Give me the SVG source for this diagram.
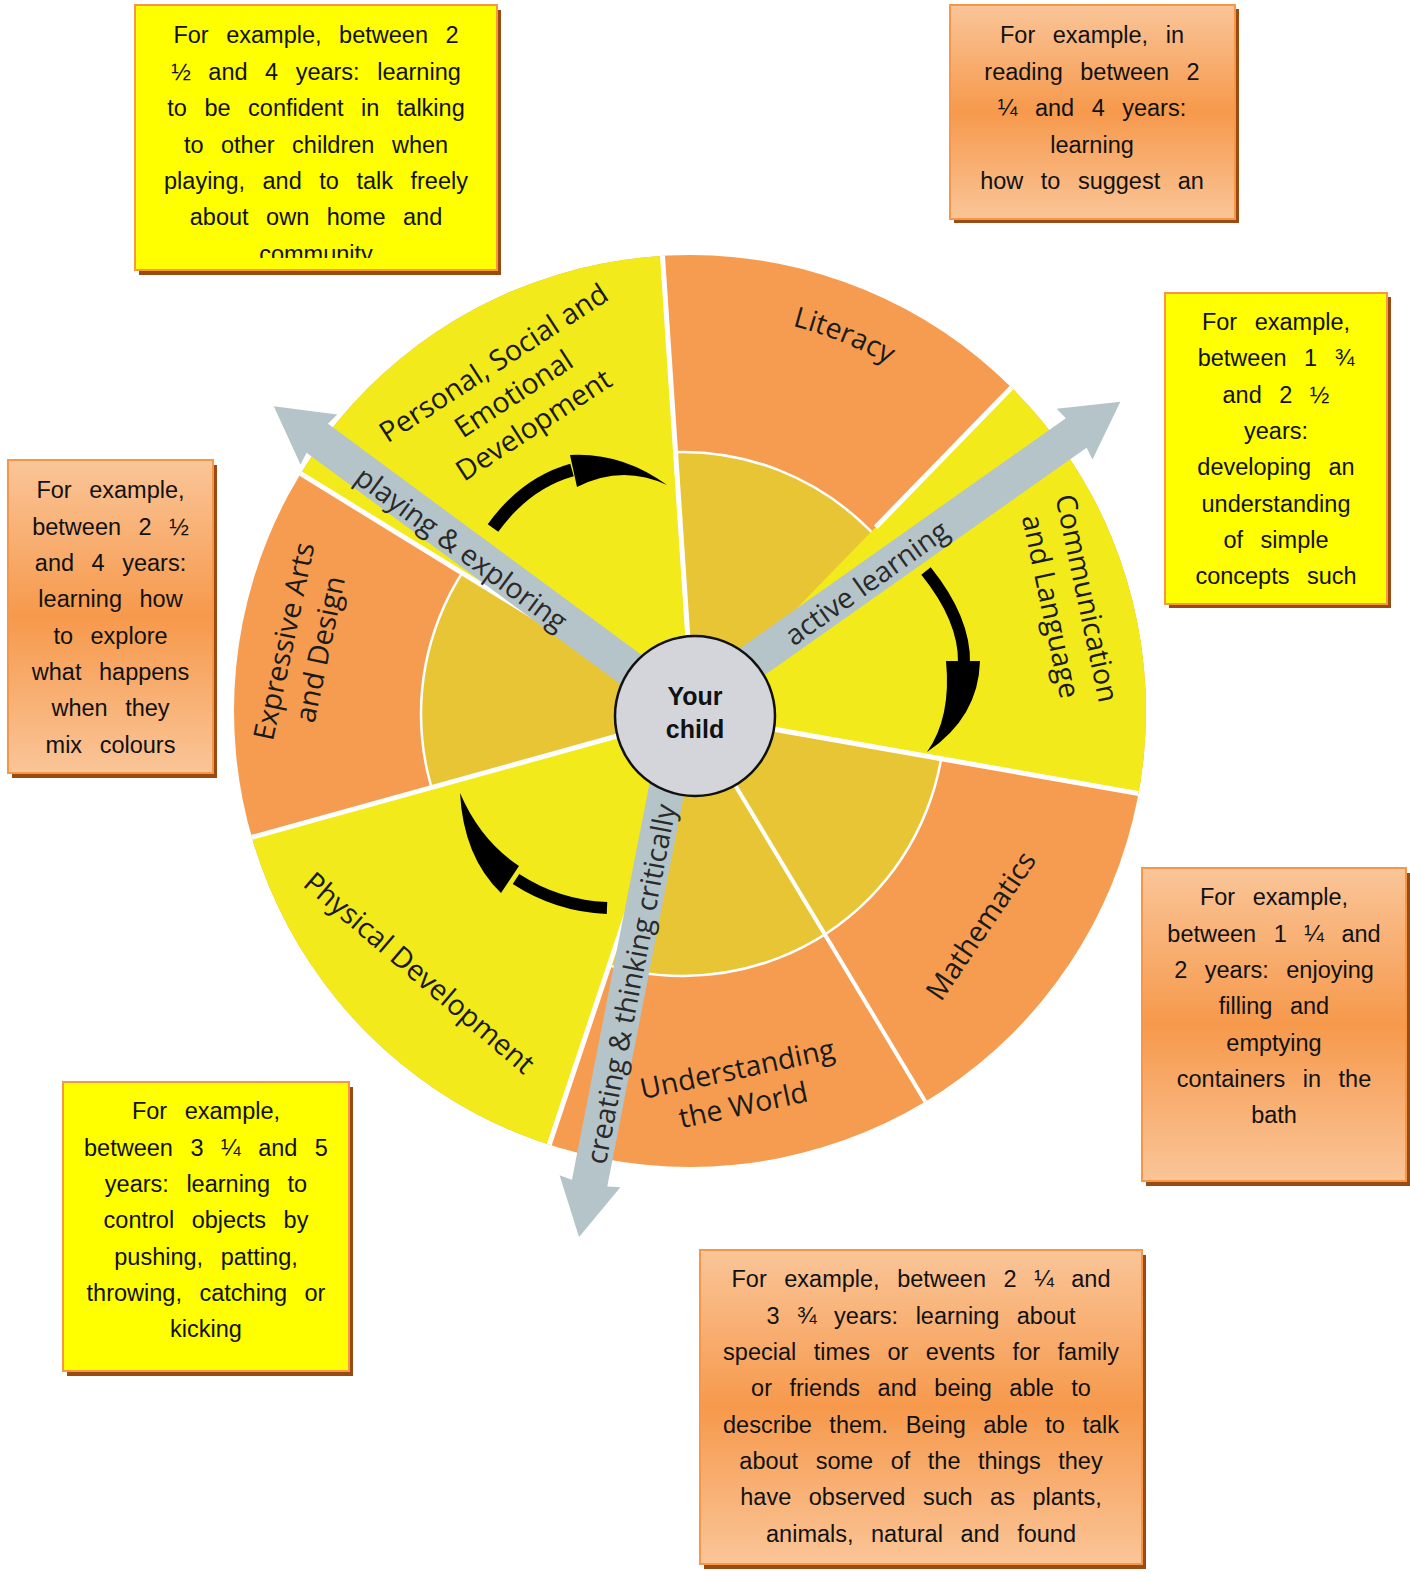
<svg xmlns="http://www.w3.org/2000/svg" width="1410" height="1573" viewBox="0 0 1410 1573">
<defs>
<style>
.bt{font-family:"Liberation Sans",Arial,sans-serif;font-size:23.5px;fill:#111;text-anchor:middle;word-spacing:11px}
.lbl{font-family:"Open Sans","Liberation Sans",sans-serif;font-size:28.5px;fill:#1a1a1a;text-anchor:middle;dominant-baseline:central}
.sep{stroke:#fff;stroke-width:5;fill:none}
.ybox{fill:#FFFF00;stroke:#F79646;stroke-width:2}
.obox{fill:url(#og);stroke:#F79646;stroke-width:2}
.shd{fill:#9A4B12}
.garrow{fill:#B4C4C9}
.blk{fill:#000}
.shaft{fill:none;stroke:#000;stroke-width:13}
.yel{fill:#F2EA1B}
</style>
<linearGradient id="og" x1="0" y1="0" x2="0" y2="1">
<stop offset="0" stop-color="#FAC598"/><stop offset="0.5" stop-color="#F6994C"/><stop offset="1" stop-color="#FAC598"/>
</linearGradient>
<clipPath id="wheelClip"><circle cx="690" cy="711" r="456"/></clipPath>
<clipPath id="clipTL"><rect x="135" y="5" width="362" height="253"/></clipPath>
<path id="litPath" d="M635.5,317 A401,401 0 0 1 1007.5,466.6"/>
<polygon id="garrowShape" points="0,-18 468,-18 466,-31 522,0 466,31 468,18 0,18"/>
</defs>

<g id="wheel-base">
<circle cx="690" cy="711" r="456" fill="#F69C50"/>
<circle cx="683" cy="714" r="262" fill="#E8C535" stroke="#fff" stroke-width="2.5"/>
</g>

<g id="seg-psed">
<polygon class="yel" clip-path="url(#wheelClip)" points="693,715 139.4,374.4 649.9,66.4"/>
<text class="lbl" transform="translate(493,362) rotate(-33)">Personal, Social and</text>
<text class="lbl" transform="translate(513,393) rotate(-33)">Emotional</text>
<text class="lbl" transform="translate(533,424) rotate(-33)">Development</text>
</g>

<g id="seg-literacy">
<text class="lbl" style="dominant-baseline:auto"><textPath href="#litPath" startOffset="50%">Literacy</textPath></text>
</g>

<g id="seg-communication">
<polygon class="yel" clip-path="url(#wheelClip)" points="693,715 1146.2,249 1333.1,827.8"/>
<text class="lbl" transform="translate(1088,598) rotate(78)">Communication</text>
<text class="lbl" transform="translate(1052,606) rotate(78)">and Language</text>
</g>

<g id="seg-mathematics">
<text class="lbl" transform="translate(980,925) rotate(-56)">Mathematics</text>
</g>

<g id="seg-understanding">
<text class="lbl" transform="translate(737,1068) rotate(-12)">Understanding</text>
<text class="lbl" transform="translate(743,1104) rotate(-12)">the World</text>
</g>

<g id="seg-physical">
<polygon class="yel" clip-path="url(#wheelClip)" points="693,715 486.8,1331.4 66.7,888.7"/>
<text class="lbl" transform="translate(420,972) rotate(40.5)">Physical Development</text>
</g>

<g id="seg-expressive">
<text class="lbl" transform="translate(283,641) rotate(-78)">Expressive Arts</text>
<text class="lbl" transform="translate(319,649) rotate(-78)">and Design</text>
</g>

<g id="separators" clip-path="url(#wheelClip)">
<line class="sep" x1="693" y1="715" x2="649.9" y2="66.4"/>
<line class="sep" x1="875.7" y1="527.2" x2="1146.2" y2="249"/>
<line class="sep" x1="693" y1="715" x2="1333.1" y2="827.8"/>
<line class="sep" x1="693" y1="715" x2="1027.8" y2="1272.2" style="stroke-width:4"/>
<line class="sep" x1="693" y1="715" x2="486.8" y2="1331.4"/>
<line class="sep" x1="693" y1="715" x2="66.7" y2="888.7"/>
<line class="sep" x1="693" y1="715" x2="139.4" y2="374.4"/>
</g>

<g id="connectors">
<g id="arrow-playing">
<use href="#garrowShape" class="garrow" transform="translate(694,716) rotate(216.39)"/>
<text class="lbl" style="fill:#2a2a2a" transform="translate(462,548) rotate(36.4)">playing &amp; exploring</text>
</g>
<g id="arrow-active">
<use href="#garrowShape" class="garrow" transform="translate(694,703) rotate(-35.24)"/>
<text class="lbl" style="fill:#2a2a2a" transform="translate(866,582) rotate(-35.3)">active learning</text>
</g>
<g id="arrow-creating">
<polygon class="garrow" points="0,-18 476,-18 474,-31 531,0 474,31 476,18 0,18" transform="translate(681,716) rotate(101.07)"/>
<text class="lbl" style="fill:#2a2a2a" transform="translate(630,984) rotate(-78.9)">creating &amp; thinking critically</text>
</g>
</g>

<g id="cycle-arrows">
<path class="shaft" d="M493,528 Q525.5,483 572,470"/>
<path class="blk" d="M570,455 Q621.5,452 667,485 Q622,464 577,487 Z"/>
<path class="shaft" style="stroke-width:12" d="M926,571 Q965,619.5 964,663"/>
<path class="blk" d="M946,661 L980,661 Q978.5,717.5 927,752 Q951.5,717.5 946,661 Z"/>
<path class="shaft" style="stroke-width:12" d="M607,908 Q557.5,906 516,879"/>
<path class="blk" d="M519,866 Q480.5,840.5 460,793 Q463.5,857 501,893 Z"/>
</g>

<g id="your-child">
<circle cx="695" cy="716" r="80" fill="#D3D5DA" stroke="#111" stroke-width="2.5"/>
<text x="695" y="705" style="font-family:'Liberation Sans',Arial,sans-serif;font-weight:bold;font-size:25px;fill:#111;text-anchor:middle">Your</text>
<text x="695" y="738" style="font-family:'Liberation Sans',Arial,sans-serif;font-weight:bold;font-size:25px;fill:#111;text-anchor:middle">child</text>
</g>

<g id="box-psed">
<rect class="shd" x="139" y="10" width="362" height="265"/>
<rect class="ybox" x="135" y="5" width="362" height="265"/>
<text class="bt" clip-path="url(#clipTL)"><tspan x="316" y="43">For example, between 2</tspan><tspan x="316" y="79.5">½ and 4 years: learning</tspan><tspan x="316" y="116">to be confident in talking</tspan><tspan x="316" y="152.5">to other children when</tspan><tspan x="316" y="189">playing, and to talk freely</tspan><tspan x="316" y="225">about own home and</tspan><tspan x="316" y="261.5">community</tspan></text>
</g>

<g id="box-literacy">
<rect class="shd" x="954" y="9" width="285" height="214"/>
<rect class="obox" x="950" y="5" width="285" height="214"/>
<text class="bt"><tspan x="1092" y="43">For example, in</tspan><tspan x="1092" y="79.5">reading between 2</tspan><tspan x="1092" y="116">¼ and 4 years:</tspan><tspan x="1092" y="152.5">learning</tspan><tspan x="1092" y="189">how to suggest an</tspan></text>
</g>

<g id="box-communication">
<rect class="shd" x="1169" y="297" width="222" height="311"/>
<rect class="ybox" x="1165" y="293" width="222" height="311"/>
<text class="bt"><tspan x="1276" y="330">For example,</tspan><tspan x="1276" y="366">between 1 ¾</tspan><tspan x="1276" y="402.5">and 2 ½</tspan><tspan x="1276" y="439">years:</tspan><tspan x="1276" y="475">developing an</tspan><tspan x="1276" y="511.5">understanding</tspan><tspan x="1276" y="548">of simple</tspan><tspan x="1276" y="584">concepts such</tspan></text>
</g>

<g id="box-expressive">
<rect class="shd" x="12" y="465" width="205" height="313"/>
<rect class="obox" x="8" y="460" width="205" height="313"/>
<text class="bt"><tspan x="110.5" y="498">For example,</tspan><tspan x="110.5" y="534.5">between 2 ½</tspan><tspan x="110.5" y="571">and 4 years:</tspan><tspan x="110.5" y="607">learning how</tspan><tspan x="110.5" y="643.5">to explore</tspan><tspan x="110.5" y="680">what happens</tspan><tspan x="110.5" y="716">when they</tspan><tspan x="110.5" y="752.5">mix colours</tspan></text>
</g>

<g id="box-mathematics">
<rect class="shd" x="1146" y="873" width="264" height="313"/>
<rect class="obox" x="1142" y="868" width="264" height="313"/>
<text class="bt"><tspan x="1274" y="905">For example,</tspan><tspan x="1274" y="941.5">between 1 ¼ and</tspan><tspan x="1274" y="978">2 years: enjoying</tspan><tspan x="1274" y="1014">filling and</tspan><tspan x="1274" y="1050.5">emptying</tspan><tspan x="1274" y="1087">containers in the</tspan><tspan x="1274" y="1123">bath</tspan></text>
</g>

<g id="box-physical">
<rect class="shd" x="67" y="1087" width="286" height="289"/>
<rect class="ybox" x="63" y="1082" width="286" height="289"/>
<text class="bt"><tspan x="206" y="1119">For example,</tspan><tspan x="206" y="1155.5">between 3 ¼ and 5</tspan><tspan x="206" y="1192">years: learning to</tspan><tspan x="206" y="1228">control objects by</tspan><tspan x="206" y="1264.5">pushing, patting,</tspan><tspan x="206" y="1301">throwing, catching or</tspan><tspan x="206" y="1337">kicking</tspan></text>
</g>

<g id="box-understanding">
<rect class="shd" x="704" y="1255" width="442" height="314"/>
<rect class="obox" x="700" y="1250" width="442" height="314"/>
<text class="bt"><tspan x="921" y="1287">For example, between 2 ¼ and</tspan><tspan x="921" y="1323.5">3 ¾ years: learning about</tspan><tspan x="921" y="1360">special times or events for family</tspan><tspan x="921" y="1396">or friends and being able to</tspan><tspan x="921" y="1432.5">describe them. Being able to talk</tspan><tspan x="921" y="1469">about some of the things they</tspan><tspan x="921" y="1505">have observed such as plants,</tspan><tspan x="921" y="1541.5">animals, natural and found</tspan></text>
</g>
</svg>
